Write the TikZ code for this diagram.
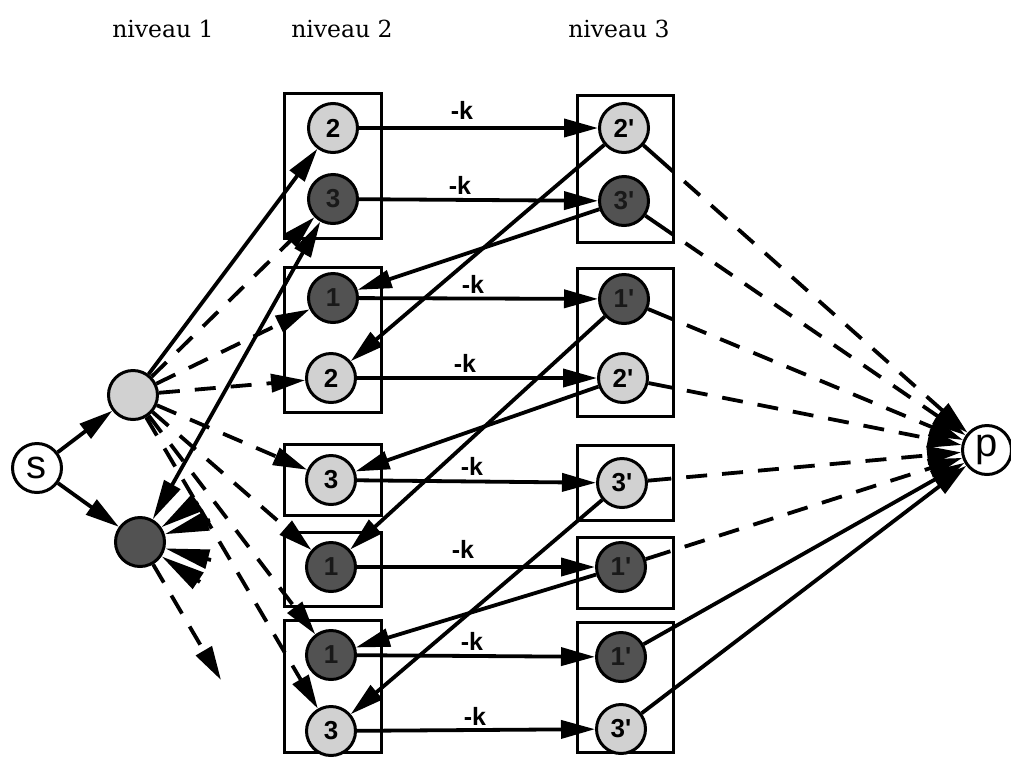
\documentclass[tikz,border=0pt]{standalone}
\usepackage{fontspec}
\setmainfont{Liberation Serif}
\newfontfamily\hel{Liberation Sans}
\newfontfamily\ser{DejaVu Serif}
\usetikzlibrary{arrows.meta,calc}
\tikzset{
  circ/.style={circle, draw, line width=3pt, minimum size=49pt, inner sep=0pt,
    font=\hel\bfseries\fontsize{26}{26}\selectfont},
  lite/.style={circ, fill=black!18},
  dark/.style={circ, fill=black!68, text=black!90},
  wht/.style={circle, draw, line width=3pt, minimum size=49pt, inner sep=0pt, fill=white,
    font=\hel\fontsize{40}{40}\selectfont},
  boxx/.style={draw, line width=3pt},
  conn/.style={line width=3.8pt, -{Triangle[length=34pt,width=18pt]}},
  dsh/.style={conn, dash pattern=on 21pt off 15pt},
  startip/.style={line width=3.8pt, -{Triangle[length=44pt,width=19pt]}},
  klab/.style={font=\hel\bfseries\fontsize{25}{25}\selectfont},
  head/.style={font=\ser\fontsize{23.5}{23.5}\selectfont, anchor=base}
}
\begin{document}
\begin{tikzpicture}[x=1pt,y=-1pt]
\useasboundingbox (0,0) rectangle (1011,769);
% headings
\node[head] (h1) at (163,37) {niveau 1};
\node[head] (h2) at (342,37) {niveau 2};
\node[head] (h3) at (619,37) {niveau 3};
% boxes level 2
\draw[boxx] (284,93) rectangle (381,238);
\draw[boxx] (284,267) rectangle (381,412);
\draw[boxx] (284,444) rectangle (381,515);
\draw[boxx] (284,532) rectangle (381,606);
\draw[boxx] (284,620) rectangle (381,752);
% boxes level 3
\draw[boxx] (577,95) rectangle (673,242);
\draw[boxx] (577,268) rectangle (673,416);
\draw[boxx] (577,445) rectangle (673,520);
\draw[boxx] (577,537) rectangle (673,608);
\draw[boxx] (577,622) rectangle (673,752);
% nodes
\node[wht] (s) at (37,468) {s};
\node[wht] (p) at (987,450) {p};
\node[lite] (A) at (133,395) {};
\node[dark] (B) at (140,542) {};
\node[lite] (a1) at (333,128) {2};
\node[dark] (a2) at (333,199) {3};
\node[dark] (a3) at (333,298) {1};
\node[lite] (a4) at (331,378) {2};
\node[lite] (a5) at (331,480) {3};
\node[dark] (a6) at (331,567) {1};
\node[dark] (a7) at (331,655) {1};
\node[lite] (a8) at (331,731) {3};
\node[lite] (c1) at (624,128) {2'};
\node[dark] (c2) at (624,201) {3'};
\node[dark] (c3) at (624,299) {1'};
\node[lite] (c4) at (623,378) {2'};
\node[lite] (c5) at (622,483) {3'};
\node[dark] (c6) at (621,567) {1'};
\node[dark] (c7) at (621,657) {1'};
\node[lite] (c8) at (621,729) {3'};
% s to level 1
\draw[conn] (s) -- (A);
\draw[conn] (s) -- (B);
% level 1 to level 2
\draw[conn] (A) -- (a1);
\draw[dsh] (A) -- (a2);
\draw[dsh] (A) -- (a3);
\draw[dsh] (A) -- (a4);
\draw[dsh] (A) -- (a5);
\draw[dsh] (A) -- (a6);
\draw[dsh] (A) -- (a7);
\draw[dsh] (A) -- (a8);
\draw[line width=3.8pt, {Triangle[length=40pt,width=18pt]}-{Triangle[length=36pt,width=18pt]}] (B) -- (a2);
\coordinate (fe) at (221,680);
\draw[dsh] (B) -- (fe);
\coordinate (st1) at (198,502);
\coordinate (st2) at (210,520);
\coordinate (st3) at (211,560);
\coordinate (st4) at (200,582);
\draw[startip] (st1) -- (B);
\draw[startip] (st2) -- (B);
\draw[startip] (st3) -- (B);
\draw[startip] (st4) -- (B);
% level 2 to level 3 (-k)
\draw[conn] (a1) -- (c1);
\draw[conn] (a2) -- (c2);
\draw[conn] (a3) -- (c3);
\draw[conn] (a4) -- (c4);
\draw[conn] (a5) -- (c5);
\draw[conn] (a6) -- (c6);
\draw[conn] (a7) -- (c7);
\draw[conn] (a8) -- (c8);
\node[klab] (k1) at (462,110) {-k};
\node[klab] (k2) at (460,185) {-k};
\node[klab] (k3) at (473,284) {-k};
\node[klab] (k4) at (465,363) {-k};
\node[klab] (k5) at (472,466) {-k};
\node[klab] (k6) at (463,549) {-k};
\node[klab] (k7) at (472,641) {-k};
\node[klab] (k8) at (475,716) {-k};
% level 3 back to level 2
\draw[conn] (c1) -- (a4);
\draw[conn] (c2) -- (a3);
\draw[conn] (c3) -- (a6);
\draw[conn] (c4) -- (a5);
\draw[conn] (c5) -- (a8);
\draw[conn] (c6) -- (a7);
% level 3 to p
\foreach \n in {c1,c2,c3,c4,c5,c6}{
  \coordinate (e\n) at ($(\n)!0.135!(p)$);
  \draw[line width=3.8pt] (\n) -- (e\n);
  \draw[dsh, dash phase=21pt] (e\n) -- (p);
}
\draw[conn] (c7) -- (p);
\draw[conn] (c8) -- (p);
\end{tikzpicture}
\end{document}
